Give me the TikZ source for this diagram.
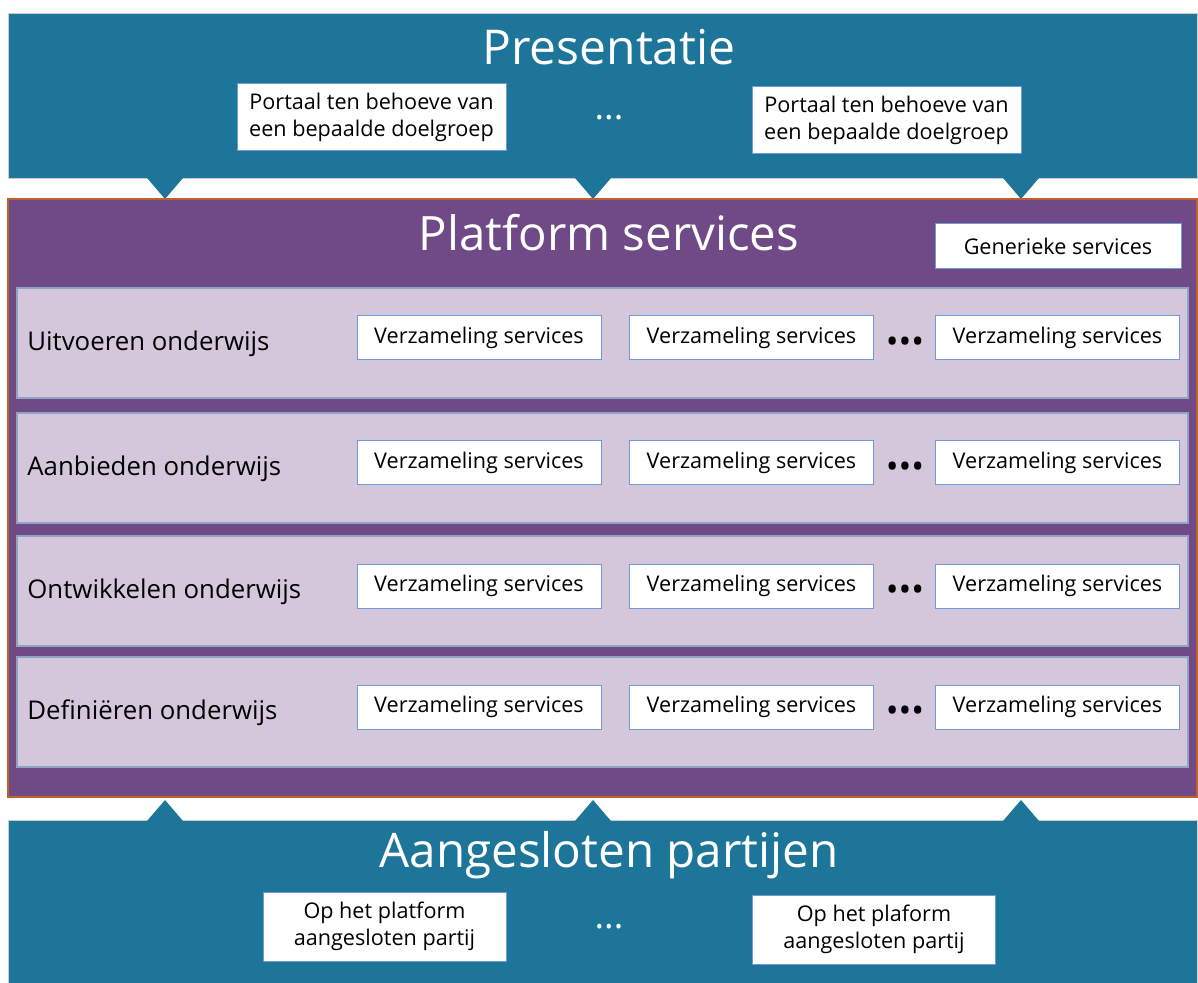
\documentclass[tikz,border=0pt]{standalone}
\usepackage{fontspec}
\setmainfont{Open Sans}
\usepackage{xcolor}
\usepackage{tikz}
\usetikzlibrary{positioning}
\definecolor{laag}{HTML}{1D7599}
\definecolor{paars}{HTML}{6F4A86}
\definecolor{lila}{HTML}{D4C7DC}
\definecolor{rand}{HTML}{8FA3C4}
\definecolor{kader}{HTML}{6F9BD0}
\definecolor{oranje}{HTML}{C0602A}
\tikzset{
  blok/.style={fill=laag, draw=gray!40, line width=0.4pt},
  platform/.style={fill=paars, draw=oranje, line width=0.6pt},
  baan/.style={rectangle, fill=lila, draw=rand, line width=0.6pt,
    minimum width=585.5pt, minimum height=55pt, inner sep=0pt},
  kop/.style={text=white, font=\fontsize{24}{28}\selectfont},
  vak/.style={rectangle, fill=white, draw=kader, line width=0.5pt, align=center,
    inner sep=0pt, font=\fontsize{10.8}{13.5}\selectfont},
  svc/.style={vak, minimum width=122pt, minimum height=22pt},
  lbl/.style={anchor=west, inner sep=0pt, font=\fontsize{12.9}{15}\selectfont},
  pnt/.style={font=\fontsize{18}{20}\selectfont}
}

\begin{document}
\begin{tikzpicture}[x=0.5pt, y=-0.5pt]
  \useasboundingbox (0,0) rectangle (1198,983);
  \fill[white] (0,0) rectangle (1198,983);

  % presentatielaag met pijlpunten
  \draw[blok] (8,13) rectangle (1197,178);
  \foreach \px in {165,593,1021}
    \fill[laag] (\px-18,178) -- (\px+18,178) -- (\px,199) -- cycle;
  \node[kop] (pres) at (609,47) {Presentatie};
  \node[vak, minimum width=134.5pt, minimum height=33.5pt] (portA) at (371.5,117.5)
    {Portaal ten behoeve van\\een bepaalde doelgroep};
  \node[pnt, text=white] (dotsP) at (609,118) {...};
  \node[vak, minimum width=134.5pt, minimum height=33.5pt] (portB) at (886.5,120.5)
    {Portaal ten behoeve van\\een bepaalde doelgroep};

  % platform
  \draw[platform] (8,199) rectangle (1197,797);
  \node[kop, font=\fontsize{23.7}{28}\selectfont] (plat) at (609,233) {Platform services};
  \node[svc, minimum width=123pt, minimum height=22.5pt] (gen) at (1058,246.5) {Generieke services};

  \foreach \ly/\naam [count=\i] in {343/Uitvoeren onderwijs, 468/Aanbieden onderwijs,
                                    591/Ontwikkelen onderwijs, 712/Definiëren onderwijs} {
    \node[baan] (lane\i) at (602.5,\ly) {};
    \node[lbl] (lbl\i) at (27,\ly+1) {\naam};
    \node[svc] (s\i a) at (479,\ly-5) {Verzameling services};
    \node[svc] (s\i b) at (751.5,\ly-5) {Verzameling services};
    \node[font=\fontsize{17}{18}\selectfont] (d\i) at (905,\ly+2) {•••};
    \node[svc] (s\i c) at (1057.5,\ly-5) {Verzameling services};
  }

  % aangesloten partijen
  \draw[blok] (8,820) rectangle (1197,983);
  \foreach \px in {165,593,1021}
    \fill[laag] (\px-18,821) -- (\px+18,821) -- (\px,800) -- cycle;
  \node[kop, font=\fontsize{23.8}{28}\selectfont] (aang) at (609,855) {Aangesloten partijen};
  \node[vak, minimum width=121.5pt, minimum height=34.5pt] (partA) at (384.5,926.5)
    {Op het platform\\aangesloten partij};
  \node[pnt, text=white] (dotsA) at (609,927) {...};
  \node[vak, minimum width=121.5pt, minimum height=34.5pt] (partB) at (874,929.5)
    {Op het plaform\\aangesloten partij};
\end{tikzpicture}
\end{document}
